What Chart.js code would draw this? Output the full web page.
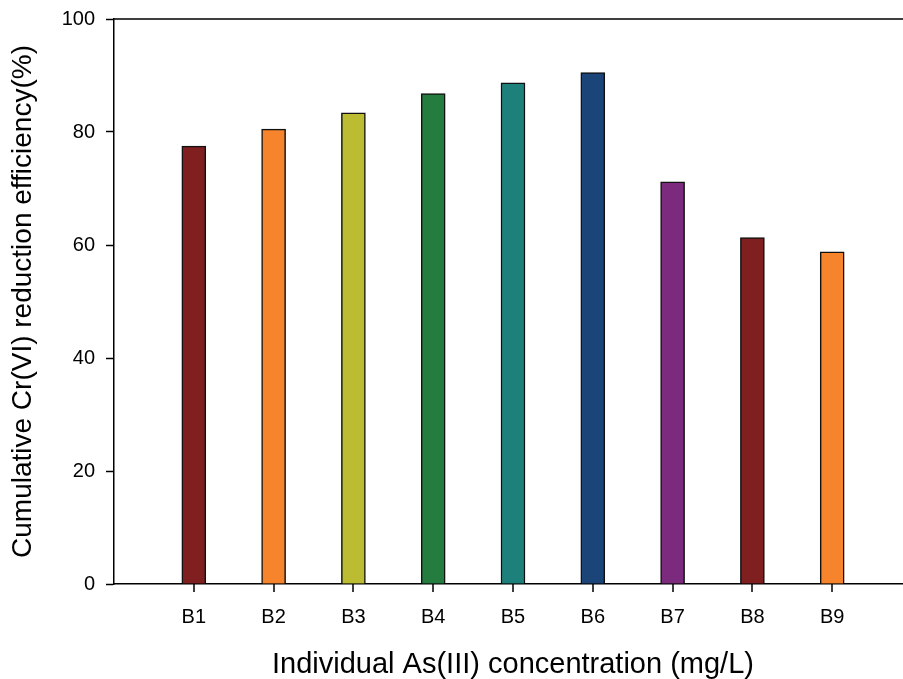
<!DOCTYPE html>
<html>
<head>
<meta charset="utf-8">
<script src="https://cdn.jsdelivr.net/npm/chart.js@4.4.1/dist/chart.umd.min.js"></script>
<style>
  body { margin: 0; background: #fff; }
  .wrap { width: 903px; height: 679px; overflow: hidden; }
</style>
</head>
<body>
<div class="wrap">
  <canvas class="mychart" width="933" height="679"></canvas>
</div>
<script>
var categories = ["B1", "B2", "B3", "B4", "B5", "B6", "B7", "B8", "B9"];
var efficiency = [77.5, 80.5, 83.4, 86.8, 88.7, 90.5, 71.2, 61.3, 58.8];
var barColors = ["#7f1f1f", "#f5842c", "#bcbc33", "#247d3f", "#1d807b", "#1b4479", "#7b2a7d", "#7f1f1f", "#f5842c"];
var yTicks = [0, 20, 40, 60, 80, 100];

// empty slot on each side so B1..B9 sit at 1/10..9/10 of the axis
var labels = [""].concat(categories).concat([""]);
var values = [null].concat(efficiency).concat([null]);
var colors = ["#fff"].concat(barColors).concat(["#fff"]);

var font = "'Liberation Sans', Arial, sans-serif";

// line along the top of the plot area, plus the short marks under B1..B9
var frame = {
  id: "frame",
  afterDraw: function(chart) {
    var c = chart.ctx, a = chart.chartArea, xs = chart.scales.x;
    c.save();
    c.strokeStyle = "#000";
    c.lineWidth = 1.5;
    c.beginPath();
    c.moveTo(a.left, a.top);
    c.lineTo(a.right, a.top);
    for (var i = 0; i < categories.length; i++) {
      var px = Math.round(xs.getPixelForValue(i + 1));
      c.moveTo(px, a.bottom);
      c.lineTo(px, a.bottom + 8);
    }
    c.stroke();
    c.restore();
  }
};

var x = document.querySelector(".mychart").getContext("2d");
var chart = new Chart(x, {
  type: "bar",
  data: {
    labels: labels,
    datasets: [{
      label: "Cumulative Cr(VI) reduction efficiency",
      data: values,
      backgroundColor: colors,
      borderColor: "#111",
      borderWidth: 1.5,
      barThickness: 24
    }]
  },
  options: {
    responsive: false,
    animation: false,
    layout: { padding: { top: 19, left: 0, right: 0, bottom: 0 } },
    plugins: {
      legend: { display: false },
      tooltip: { enabled: false }
    },
    scales: {
      x: {
        offset: false,
        afterFit: function(scale) { scale.height = 95; },
        border: { display: true, color: "#000", width: 1.5 },
        grid: {
          offset: false,
          drawOnChartArea: false,
          drawTicks: false
        },
        ticks: {
          autoSkip: false,
          maxRotation: 0,
          padding: 21,
          color: "#000",
          font: { family: font, size: 20 }
        },
        title: {
          display: true,
          text: "Individual As(III) concentration (mg/L)",
          color: "#000",
          font: { family: font, size: 29, lineHeight: 1 },
          padding: { top: 0, bottom: 0 }
        }
      },
      y: {
        min: 0,
        max: 100,
        afterFit: function(scale) { scale.width = 114; },
        afterBuildTicks: function(scale) {
          scale.ticks = yTicks.map(function(v) { return { value: v }; });
        },
        border: { display: true, color: "#000", width: 1.5 },
        grid: {
          drawOnChartArea: false,
          tickLength: 8,
          tickWidth: 1.5,
          tickColor: "#000"
        },
        ticks: {
          padding: 11,
          color: "#000",
          font: { family: font, size: 20, lineHeight: 0.6 }
        },
        title: {
          display: true,
          text: "Cumulative Cr(VI) reduction efficiency(%)",
          color: "#000",
          font: { family: font, size: 28, lineHeight: 1.2 },
          padding: { top: 6, bottom: 0 }
        }
      }
    }
  },
  plugins: [frame]
});
</script>
</body>
</html>
